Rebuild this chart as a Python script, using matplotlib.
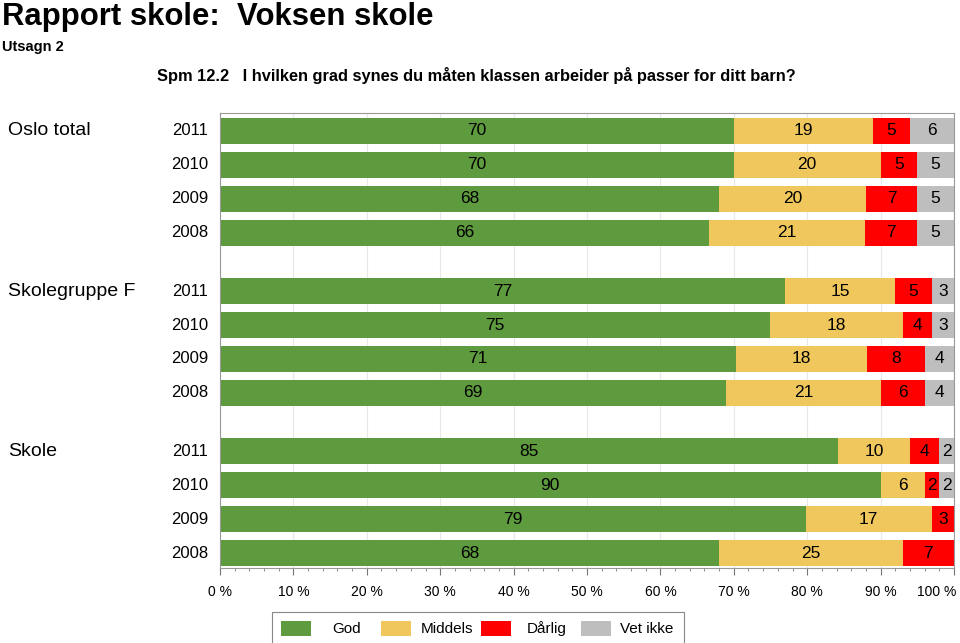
import numpy as np
import matplotlib
matplotlib.use('Agg')
import matplotlib.pyplot as plt
import matplotlib.transforms as mtrans
from matplotlib.patches import Rectangle
from matplotlib.ticker import MultipleLocator, FuncFormatter

plt.rcParams['font.family'] = ['Liberation Sans', 'DejaVu Sans']

groups = ['Oslo total', 'Skolegruppe F', 'Skole']
years = ['2011', '2010', '2009', '2008']
categories = ['God', 'Middels', 'Dårlig', 'Vet ikke']
colors = ['#5e9a3e', '#f0c75c', '#ff0000', '#bebebe']

# rows: per group 2011, 2010, 2009, 2008
god = [70, 70, 68, 66, 77, 75, 71, 69, 85, 90, 79, 68]
middels = [19, 20, 20, 21, 15, 18, 18, 21, 10, 6, 17, 25]
darlig = [5, 5, 7, 7, 5, 4, 8, 6, 4, 2, 3, 7]
vetikke = [6, 5, 5, 5, 3, 3, 4, 4, 2, 2, 0, 0]

vals = np.array([god, middels, darlig, vetikke], dtype=float)
shares = vals / vals.sum(axis=0) * 100

gap = 0.72
pos = []
for g in range(len(groups)):
    for i in range(len(years)):
        pos.append(g * (len(years) + gap) + i)
pos = np.array(pos)

W, H = 960, 643
fig = plt.figure(figsize=(W / 100, H / 100), dpi=100)
ax = fig.add_axes([220/W, 75/H, 734/W, 455/H])

left = np.zeros(len(pos))
for k in range(len(categories)):
    ax.barh(pos, shares[k], left=left, height=0.76, color=colors[k], zorder=2)
    for j in range(len(pos)):
        if vals[k, j] > 0:
            ax.text(left[j] + shares[k, j] / 2, pos[j], '%d' % vals[k, j],
                    ha='center', va='center', fontsize=12.5, zorder=3)
    left = left + shares[k]

ax.set_xlim(0, 100)
ax.set_ylim(pos[-1] + 0.44, -0.53)
ax.set_yticks([])
ax.xaxis.set_major_locator(MultipleLocator(10))
ax.xaxis.set_minor_locator(MultipleLocator(2))
# 100 % is written by hand below so it can stay inside the figure
ax.xaxis.set_major_formatter(FuncFormatter(lambda v, p: '' if v > 99 else '%d %%' % v))
ax.tick_params(axis='x', which='major', length=5, color='#777777', labelsize=10, pad=7)
ax.tick_params(axis='x', which='minor', length=2.2, color='#777777')
ax.grid(axis='x', which='major', color='#e8e8e8', linewidth=0.8, zorder=0)
for s in ax.spines.values():
    s.set_color('#999999')
    s.set_linewidth(0.8)

fig.canvas.draw()
ref = ax.get_xticklabels()[0]
ax.text(100, 0, '100 %', transform=ref.get_transform() + mtrans.ScaledTranslation(2/100, 0, fig.dpi_scale_trans),
        ha='right', va=ref.get_verticalalignment(), fontsize=10, clip_on=False)

for j, p in enumerate(pos):
    ax.text(-0.016, p, years[j % 4], transform=ax.get_yaxis_transform(),
            ha='right', va='center', fontsize=12)
lab_tr = mtrans.blended_transform_factory(fig.transFigure, ax.transData)
for g, name in enumerate(groups):
    ax.text(8/W, pos[g * 4], name, transform=lab_tr, ha='left', va='center', fontsize=14)

fig.text(2/W, 1 - 25/H, 'Rapport skole:  Voksen skole', fontsize=22.4, fontweight='bold',
         ha='left', va='baseline')
fig.text(2/W, 1 - 47/H, 'Utsagn 2', fontsize=10.5, fontweight='bold', ha='left', va='center')
fig.text(157/W, 1 - 76/H,
         'Spm 12.2   I hvilken grad synes du måten klassen arbeider på passer for ditt barn?',
         fontsize=11.8, fontweight='bold', ha='left', va='center')

# legend drawn by hand: fixed-width columns like the original
fig.patches.append(Rectangle((272/W, 1 - 660/H), 412/W, 48/H, transform=fig.transFigure,
                             facecolor='white', edgecolor='#888888', linewidth=0.8))
for k, (c, name) in enumerate(zip(colors, categories)):
    x0 = 281 + 100 * k
    fig.patches.append(Rectangle((x0/W, 1 - 636/H), 30/W, 15/H, transform=fig.transFigure,
                                 facecolor=c, edgecolor='none'))
    fig.text((x0 + 66)/W, 1 - 629/H, name, fontsize=11, ha='center', va='center')

fig.savefig('out.png', dpi=100)
